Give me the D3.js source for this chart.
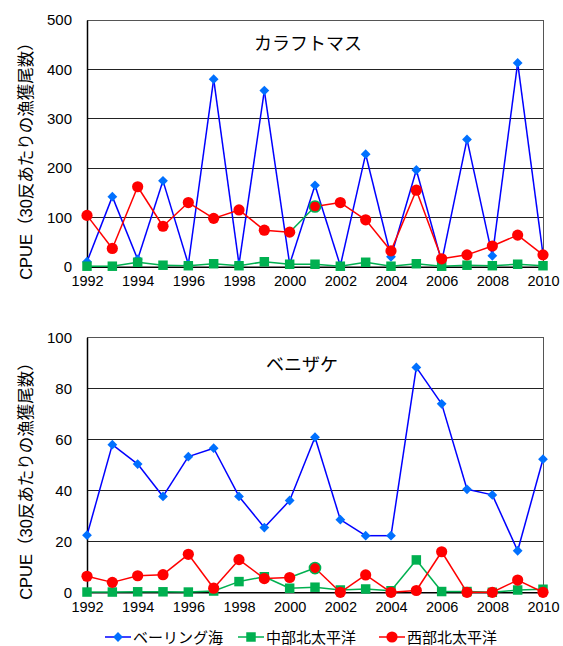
<!DOCTYPE html>
<html><head><meta charset="utf-8">
<script src="https://cdn.jsdelivr.net/npm/d3@7"></script>
<style>
body{margin:0;background:#fff}
svg{display:block}
text{font-family:"Liberation Sans","Noto Sans CJK JP",Arial,sans-serif;fill:#000}
</style>
</head><body>
<svg id="c" width="563" height="646"></svg>
<script>
const years = [1992,1993,1994,1995,1996,1997,1998,1999,2000,2001,2002,2003,2004,2005,2006,2007,2008,2009,2010];
const xTickLabels = [1992,1994,1996,1998,2000,2002,2004,2006,2008,2010];
const seriesNames = ["ベーリング海","中部北太平洋","西部北太平洋"];
const yLabel = "CPUE（30反あたりの漁獲尾数）";

// カラフトマス
const pinkTitle = "カラフトマス";
const pinkYTicks = [0,100,200,300,400,500];
const pinkBering  = [10,142,15,174,5,380,5,357,5,165,2,228,20,196,10,258,22,413,25];
const pinkCentral = [1,1,9,3,2,6,2,10,5,5,1,9,1,6,1,3,2,5,2];
const pinkWestern = [104,37,162,82,130,98,115,74,70,122,130,95,32,155,16,24,42,64,24];

// ベニザケ
const sockTitle = "ベニザケ";
const sockYTicks = [0,20,40,60,80,100];
const sockBering  = [22.4,57.9,50.3,37.6,53.2,56.5,37.6,25.4,36.0,60.8,28.5,22.2,22.2,88.2,73.9,40.4,38.2,16.3,52.2];
const sockCentral = [0.1,0.1,0.2,0.2,0.1,0.5,4.2,6.1,1.6,2.0,0.9,1.3,0.6,12.7,0.3,0.3,0,0.9,1.2];
const sockWestern = [6.3,3.9,6.5,6.9,14.9,1.6,12.8,5.4,5.8,9.5,0,6.8,0,0.7,15.9,0,0,4.8,0];

const BLUE_LINE="#0000FF", BLUE_FILL="#0070FF", GREEN="#00B050", RED="#FF0000";
const svg = d3.select("#c");

const styles = [
  {line:BLUE_LINE, fill:BLUE_FILL, sym:"diamond"},
  {line:GREEN, fill:GREEN, sym:"square"},
  {line:RED, fill:RED, sym:"circle"}
];

function marker(g, sym, x, y, fill, stroke){
  if(sym==="diamond"){
    g.append("path").attr("d", d3.symbol(d3.symbolSquare, 48)())
      .attr("transform",`translate(${x},${y}) rotate(45)`)
      .attr("fill",fill).attr("stroke",stroke||"none");
  } else if(sym==="square"){
    g.append("path").attr("d", d3.symbol(d3.symbolSquare, 90)())
      .attr("transform",`translate(${x},${y})`)
      .attr("fill",fill).attr("stroke",stroke||"none");
  } else {
    g.append("circle").attr("cx",x).attr("cy",y).attr("r",5.6)
      .attr("fill",fill).attr("stroke",stroke||"none").attr("stroke-width",stroke?1.5:0);
  }
}

function panel(cfg){
  const x = d3.scaleLinear().domain([years[0], years[years.length-1]]).range([87,543]);
  const y = d3.scaleLinear().domain([0, cfg.yTicks[cfg.yTicks.length-1]]).range([cfg.bottom, cfg.top]);
  const g = svg.append("g");
  g.selectAll(".grid").data(cfg.yTicks.slice(1,-1)).enter().append("line")
    .attr("x1",87).attr("x2",543).attr("y1",d=>y(d)).attr("y2",d=>y(d))
    .attr("stroke","#222").attr("stroke-width",1).attr("shape-rendering","crispEdges");
  g.append("path").attr("d",`M87,${y(cfg.yTicks[cfg.yTicks.length-1])}H543V${cfg.bottom}`)
    .attr("fill","none").attr("stroke","#555").attr("stroke-width",1).attr("shape-rendering","crispEdges");
  const ya = d3.axisLeft(y).tickValues(cfg.yTicks).tickSize(0).tickPadding(15).tickFormat(d3.format("d"));
  const yg = g.append("g").attr("transform","translate(87,0)").call(ya);
  yg.select(".domain").attr("stroke","#000").attr("stroke-width",1.5);
  yg.selectAll("text").attr("font-size",15).style("font-family","Liberation Sans, Arial, sans-serif");
  const xa = d3.axisBottom(x).tickValues(xTickLabels).tickSize(0).tickPadding(9).tickFormat(d3.format("d"));
  const xg = g.append("g").attr("transform",`translate(0,${cfg.bottom})`).call(xa);
  xg.select(".domain").attr("stroke","#000").attr("stroke-width",1.5);
  xg.selectAll("text").attr("font-size",14.5).style("font-family","Liberation Sans, Arial, sans-serif");
  cfg.series.forEach((vals,si)=>{
    const st = styles[si];
    const pts = vals.map((v,i)=>[x(years[i]), y(v)]);
    for(let i=0;i<pts.length-1;i++){
      let col = st.line;
      if(si===2 && years[i+1]===2001) col = GREEN;
      g.append("line").attr("x1",pts[i][0]).attr("y1",pts[i][1])
        .attr("x2",pts[i+1][0]).attr("y2",pts[i+1][1])
        .attr("stroke",col).attr("stroke-width",1.5);
    }
    pts.forEach((p,i)=>{
      const stroke = (si===2 && years[i]===2001) ? GREEN : null;
      marker(g, st.sym, p[0], p[1], st.fill, stroke);
    });
  });
  g.append("text").attr("x",cfg.titleX).attr("y",cfg.titleY).attr("text-anchor","middle")
    .attr("font-size",18).style("font-family","Noto Sans CJK JP, sans-serif").text(cfg.title);
  g.append("text").attr("transform",`translate(32,${cfg.labelY}) rotate(-90)`)
    .attr("text-anchor","middle").attr("font-size",16.5)
    .style("font-family","Liberation Sans, Noto Sans CJK JP, sans-serif").text(yLabel);
}

panel({top:20, bottom:266.7, yTicks:pinkYTicks, title:pinkTitle, titleX:308, titleY:50,
  labelY:157, series:[pinkBering,pinkCentral,pinkWestern]});
panel({top:337.3, bottom:592.3, yTicks:sockYTicks, title:sockTitle, titleX:302, titleY:371,
  labelY:477, series:[sockBering,sockCentral,sockWestern]});

const legend = svg.append("g");
const legX = [105, 238, 379];
seriesNames.forEach((n,i)=>{
  const st = styles[i];
  const lx = legX[i], ly = 637;
  legend.append("line").attr("x1",lx).attr("x2",lx+26).attr("y1",ly).attr("y2",ly)
    .attr("stroke",st.line).attr("stroke-width",1.5);
  const lg = legend.append("g");
  marker(lg, st.sym, lx+13, ly, st.fill, null);
  legend.append("text").attr("x",lx+28).attr("y",ly+5.5).attr("font-size",15)
    .style("font-family","Noto Sans CJK JP, sans-serif").text(n);
});
</script>
</body></html>
